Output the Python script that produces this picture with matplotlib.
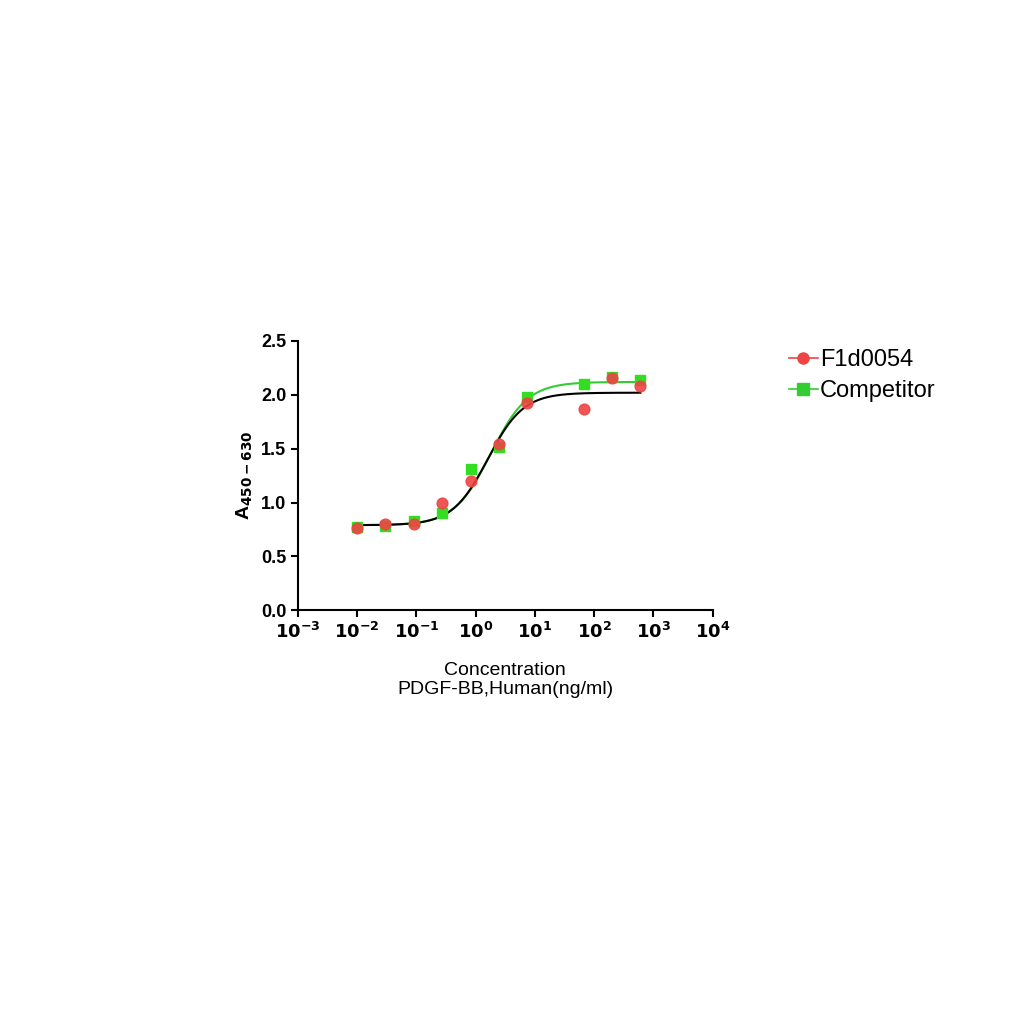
import numpy as np
import matplotlib
matplotlib.use("Agg")
import matplotlib.pyplot as plt

conc = [0.01, 0.03, 0.091, 0.27, 0.82, 2.47, 7.4, 66.7, 200, 600]
f1d0054 = [0.76, 0.80, 0.80, 1.00, 1.20, 1.54, 1.92, 1.87, 2.16, 2.08]
competitor = [0.77, 0.78, 0.83, 0.90, 1.31, 1.52, 1.98, 2.10, 2.17, 2.14]
# 4PL fit parameters (bottom, top, EC50, hill)
fit_f1d = (0.79, 2.02, 1.6, 1.45)
fit_comp = (0.79, 2.12, 1.8, 1.4)

def fpl(x, p):
    b, t, c, h = p
    return b + (t - b) / (1 + (c / x) ** h)

plt.rcParams['font.family'] = ['Liberation Sans', 'DejaVu Sans']
fig = plt.figure(figsize=(10.24, 10.24), dpi=100)
ax = fig.add_axes([0.291, 0.404, 0.405, 0.263])
xx = np.logspace(np.log10(0.01), np.log10(600), 300)
ax.plot(xx, fpl(xx, fit_comp), color='#33cc33', lw=1.5)
ax.plot(xx, fpl(xx, fit_f1d), color='black', lw=1.5)
ax.scatter(conc, competitor, marker='s', s=60, color='#33dd22', zorder=3)
ax.scatter(conc, f1d0054, marker='o', s=60, color='#ee4444', zorder=4, alpha=0.9)
ax.set_xscale('log')
ax.set_xlim(1e-3, 1e4)
ax.set_ylim(0, 2.5)
ax.set_yticks([0, 0.5, 1.0, 1.5, 2.0, 2.5])
ax.set_yticklabels(['0.0', '0.5', '1.0', '1.5', '2.0', '2.5'], fontsize=13, fontweight='bold')
ax.set_xticks([10.0**k for k in range(-3, 5)])
ax.set_xticklabels([f'$\\mathbf{{10^{{{k}}}}}$' for k in range(-3, 5)], fontsize=13)
ax.minorticks_off()
for s in ['top', 'right']:
    ax.spines[s].set_visible(False)
for s in ['left', 'bottom']:
    ax.spines[s].set_linewidth(1.5)
ax.tick_params(width=1.5, length=5)
ax.set_ylabel('A$_{\\mathbf{450-630}}$', fontsize=14, fontweight='bold')
ax.set_xlabel('Concentration\nPDGF-BB,Human(ng/ml)', fontsize=14, labelpad=14)

from matplotlib.lines import Line2D
h1 = Line2D([], [], color='#ee4444', marker='o', markersize=8, lw=1.2, markerfacecolor='#ee4444')
h2 = Line2D([], [], color='#33cc33', marker='s', markersize=8, lw=1.2)
fig.legend([h1, h2], ['F1d0054', 'Competitor'], loc='upper left', bbox_to_anchor=(0.75, 0.68),
           frameon=False, fontsize=17, handlelength=1.2, handletextpad=0.1, labelspacing=0.4)
fig.savefig('out.png', dpi=100)
